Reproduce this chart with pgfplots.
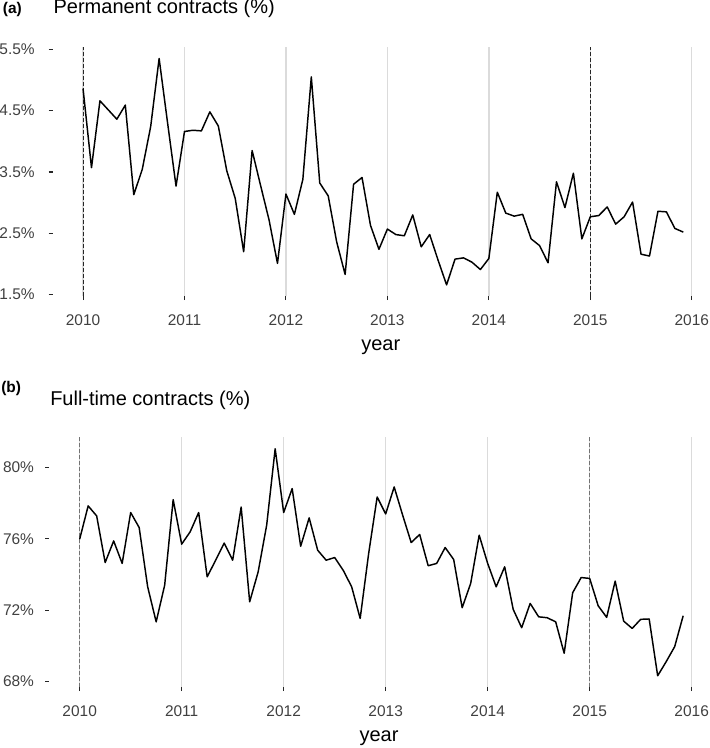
\documentclass[border=0pt]{standalone}
\usepackage{pgfplots}
\pgfplotsset{compat=1.18}
\usepackage{pgfplotstable}
\usepackage{fontspec}
\setmainfont{Liberation Sans}

\pgfplotstableread{
m perm full
0 4.86 75.98
1 3.57 77.84
2 4.66 77.28
3 4.51 74.67
4 4.36 75.88
5 4.59 74.62
6 3.13 77.47
7 3.54 76.63
8 4.24 73.31
9 5.35 71.35
10 4.30 73.40
11 3.27 78.19
12 4.16 75.70
13 4.18 76.39
14 4.17 77.47
15 4.48 73.87
16 4.25 74.80
17 3.52 75.76
18 3.07 74.80
19 2.20 77.78
20 3.85 72.47
21 3.28 74.15
22 2.72 76.76
23 2.01 81.04
24 3.14 77.47
25 2.81 78.81
26 3.38 75.58
27 5.05 77.17
28 3.32 75.36
29 3.11 74.80
30 2.36 74.95
31 1.83 74.24
32 3.30 73.31
33 3.41 71.54
34 2.63 75.18
35 2.24 78.34
36 2.57 77.39
37 2.48 78.90
38 2.46 77.32
39 2.80 75.79
40 2.28 76.24
41 2.48 74.49
42 2.06 74.62
43 1.66 75.51
44 2.08 74.84
45 2.10 72.14
46 2.03 73.50
47 1.91 76.20
48 2.09 74.62
49 3.17 73.31
50 2.83 74.43
51 2.78 72.05
52 2.81 71.02
53 2.41 72.38
54 2.30 71.63
55 2.02 71.58
56 3.34 71.35
57 2.92 69.59
58 3.48 72.98
59 2.41 73.83
60 2.77 73.78
61 2.79 72.25
62 2.93 71.60
63 2.65 73.63
64 2.77 71.39
65 3.01 70.98
66 2.16 71.49
67 2.13 71.51
68 2.86 68.33
69 2.85 69.12
70 2.58 69.96
71 2.52 71.69
}\data

\pgfplotsset{
  panel/.style={
    scale only axis,
    anchor=south west,
    xmin=-3.6, xmax=74.04,
    axis x line*=bottom, axis y line*=left,
    axis line style={draw=none},
    xtick={0,12,24,36,48,60,72},
    xticklabels={2010,2011,2012,2013,2014,2015,2016},
    xmajorgrids,
    major x grid style={black!14, line width=1.1pt},
    tick align=outside,
    major tick length=3pt,
    tick style={black!85, line width=0.8pt},
    ticklabel style={font=\fontsize{11.6}{13}\selectfont, text=black!75},
    xticklabel style={anchor=north, inner sep=0pt, yshift=-10.5pt},
    clip=false,
  },
}

\begin{document}
\begin{tikzpicture}
\useasboundingbox (0,0) rectangle (531.75pt,561pt);

\begin{axis}[panel,
  at={(39.45pt,338.85pt)}, width=492.3pt, height=186.75pt,
  ymin=1.4755, ymax=5.534,
  ytick={1.5,2.5,3.5,4.5,5.5},
  yticklabels={1.5\%,2.5\%,3.5\%,4.5\%,5.5\%},
  yticklabel style={anchor=east, inner sep=0pt, xshift=-10.2pt},
]
\addplot[black!85, line width=0.6pt, dash pattern=on 3pt off 1.5pt, forget plot] coordinates {(0,1.4755) (0,5.534)};
\addplot[black!85, line width=0.6pt, dash pattern=on 3pt off 1.5pt, forget plot] coordinates {(60,1.4755) (60,5.534)};
\addplot[black, line width=1.1pt, line join=round] table[x=m, y=perm] {\data};
\end{axis}

\begin{axis}[panel,
  at={(36.8pt,45.6pt)}, width=494.95pt, height=187.4pt,
  ymin=67.69, ymax=81.68,
  ytick={68,72,76,80},
  yticklabels={68\%,72\%,76\%,80\%},
  yticklabel style={anchor=east, inner sep=0pt, xshift=-8.1pt},
]
\addplot[black!55, line width=0.6pt, dash pattern=on 3pt off 1.5pt, forget plot] coordinates {(0,67.69) (0,81.68)};
\addplot[black!55, line width=0.6pt, dash pattern=on 3pt off 1.5pt, forget plot] coordinates {(60,67.69) (60,81.68)};
\addplot[black, line width=1.1pt, line join=round] table[x=m, y=full] {\data};
\end{axis}

\node[anchor=base west, inner sep=0pt, font=\bfseries\fontsize{11.6}{13}\selectfont] at (2pt,551pt) {(a)};
\node[anchor=base west, inner sep=0pt, font=\fontsize{15}{18}\selectfont] at (40pt,550.5pt) {Permanent contracts (\%)};
\node[anchor=base, inner sep=0pt, font=\fontsize{15}{18}\selectfont] at (285.6pt,298pt) {year};

\node[anchor=base west, inner sep=0pt, font=\bfseries\fontsize{11.6}{13}\selectfont] at (0.75pt,266.6pt) {(b)};
\node[anchor=base west, inner sep=0pt, font=\fontsize{15}{18}\selectfont] at (37.5pt,256.7pt) {Full-time contracts (\%)};
\node[anchor=base, inner sep=0pt, font=\fontsize{15}{18}\selectfont] at (284.3pt,4.7pt) {year};
\end{tikzpicture}
\end{document}
